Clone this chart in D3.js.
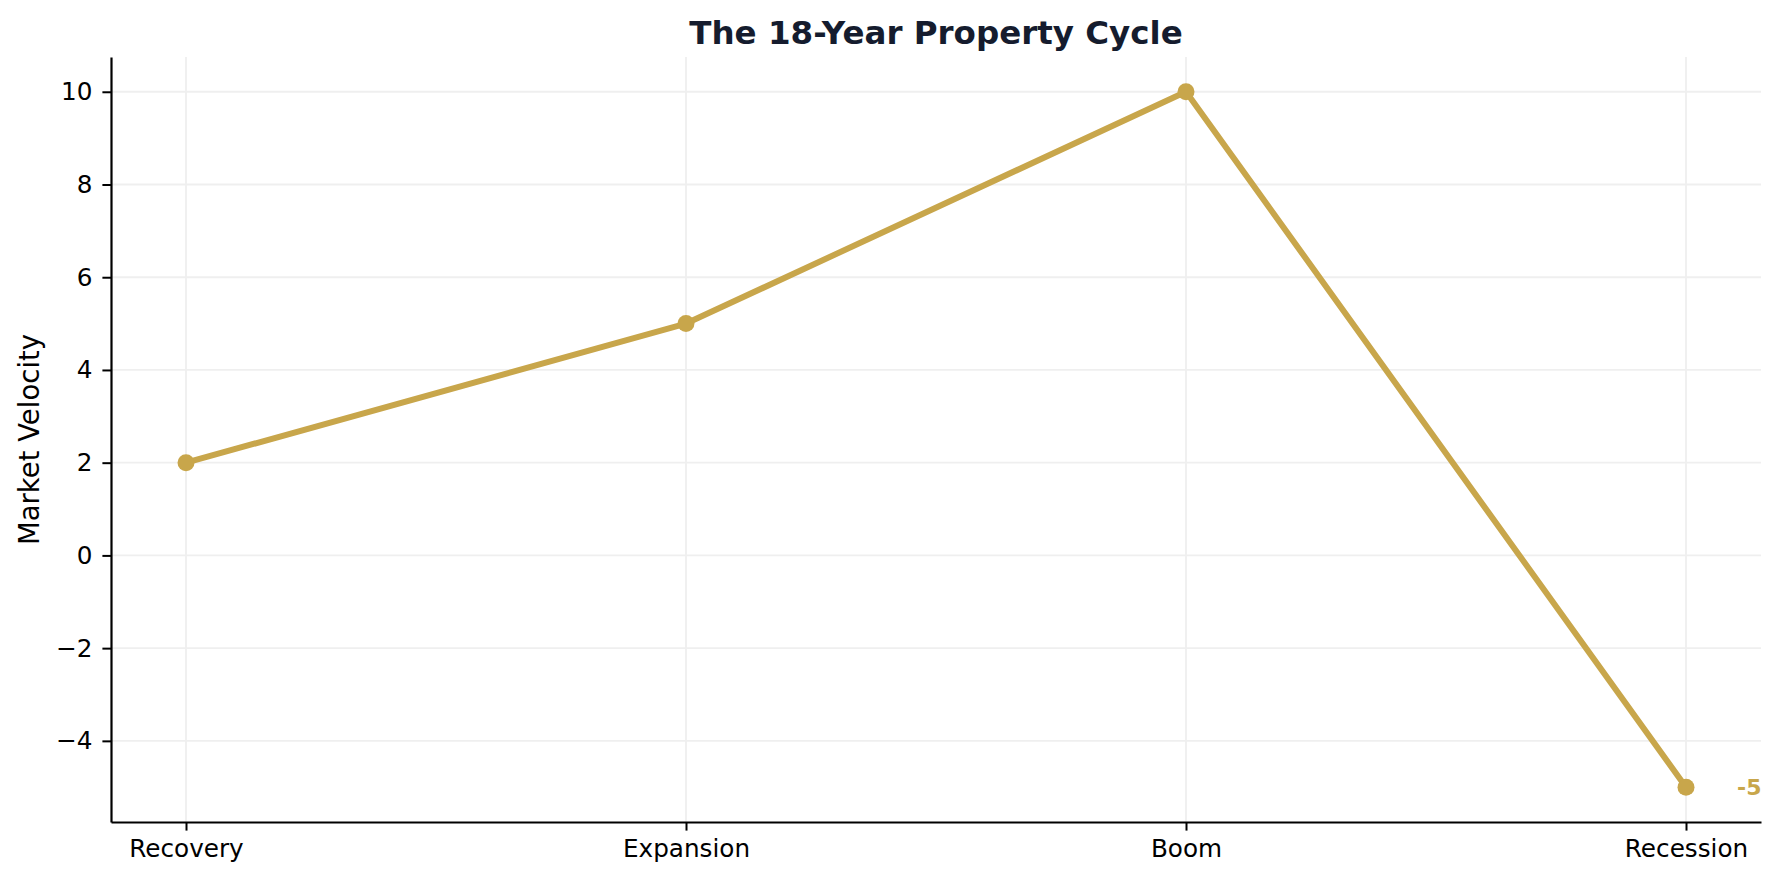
<!DOCTYPE html>
<html>
<head>
<meta charset="utf-8">
<script src="https://cdn.jsdelivr.net/npm/d3@7"></script>
<style>
  body { margin: 0; background: #fff; }
  svg { display: block; font-family: "DejaVu Sans", sans-serif; }
</style>
</head>
<body>
<svg id="chart"></svg>
<script>
const phases = ["Recovery", "Expansion", "Boom", "Recession"];
const velocity = [2, 5, 10, -5];
const yTicks = [-4, -2, 0, 2, 4, 6, 8, 10];

const width = 1779, height = 881;
const margin = { top: 57, right: 18, bottom: 59, left: 111 };
const gold = "#c8a64b";

const svg = d3.select("#chart")
    .attr("width", width)
    .attr("height", height);

const x = d3.scalePoint()
    .domain(phases)
    .range([margin.left, width - margin.right])
    .padding(0.15);

const y = d3.scaleLinear()
    .domain([-5.75, 10.75])
    .range([height - margin.bottom, margin.top]);

// grid lines
svg.append("g")
    .selectAll("line")
    .data(yTicks)
    .join("line")
    .attr("x1", margin.left).attr("x2", width - margin.right)
    .attr("y1", d => y(d)).attr("y2", d => y(d))
    .attr("stroke", "#efefef").attr("stroke-width", 1.8);

svg.append("g")
    .selectAll("line")
    .data(phases)
    .join("line")
    .attr("x1", d => x(d)).attr("x2", d => x(d))
    .attr("y1", margin.top).attr("y2", height - margin.bottom)
    .attr("stroke", "#efefef").attr("stroke-width", 1.8);

// axes
const xAxis = svg.append("g")
    .attr("transform", `translate(0,${height - margin.bottom})`)
    .call(d3.axisBottom(x).tickSize(8.6).tickPadding(9).tickSizeOuter(0));

const yAxis = svg.append("g")
    .attr("transform", `translate(${margin.left},0)`)
    .call(d3.axisLeft(y).tickValues(yTicks).tickSize(8.6).tickPadding(10).tickSizeOuter(0)
        .tickFormat(d => String(d).replace("-", "\u2212")));

[xAxis, yAxis].forEach(g => {
    g.select(".domain").attr("stroke", "#000").attr("stroke-width", 2.2);
    g.selectAll(".tick line").attr("stroke", "#000").attr("stroke-width", 2);
    g.selectAll(".tick text")
        .attr("fill", "#000")
        .style("font-family", "DejaVu Sans")
        .style("font-size", "24.7px");
});

// line + markers
const line = d3.line()
    .x((d, i) => x(phases[i]))
    .y(d => y(d));

svg.append("path")
    .datum(velocity)
    .attr("d", line)
    .attr("fill", "none")
    .attr("stroke", gold)
    .attr("stroke-width", 6)
    .attr("stroke-linejoin", "round");

svg.append("g")
    .selectAll("circle")
    .data(velocity)
    .join("circle")
    .attr("cx", (d, i) => x(phases[i]))
    .attr("cy", d => y(d))
    .attr("r", 8.5)
    .attr("fill", gold);

// annotate last value
const last = velocity.length - 1;
svg.append("text")
    .attr("x", x(phases[last]) + 51)
    .attr("y", y(velocity[last]))
    .attr("dy", "0.35em")
    .attr("fill", gold)
    .style("font-size", "22px")
    .style("font-weight", "bold")
    .text(String(velocity[last]));

// title
svg.append("text")
    .attr("x", (margin.left + width - margin.right) / 2)
    .attr("y", 44)
    .attr("text-anchor", "middle")
    .attr("fill", "#151c2e")
    .style("font-size", "32.5px")
    .style("font-weight", "bold")
    .text("The 18-Year Property Cycle");

// y label
svg.append("text")
    .attr("transform", `translate(39,${(margin.top + height - margin.bottom) / 2}) rotate(-90)`)
    .attr("text-anchor", "middle")
    .attr("fill", "#000")
    .style("font-size", "27.5px")
    .text("Market Velocity");
</script>
</body>
</html>
